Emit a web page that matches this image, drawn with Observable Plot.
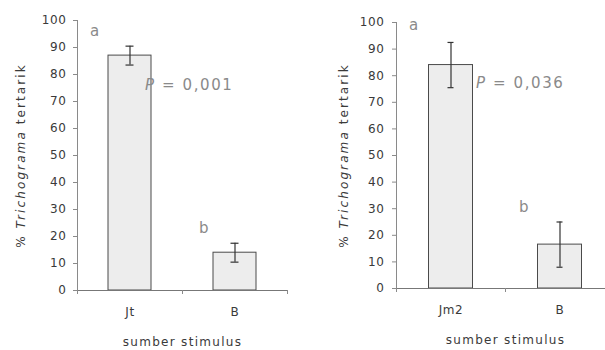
<!DOCTYPE html>
<html>
<head>
<meta charset="utf-8">
<script src="https://cdn.jsdelivr.net/npm/d3@7"></script>
<script src="https://cdn.jsdelivr.net/npm/@observablehq/plot@0.6"></script>
<style>
  html, body { margin: 0; padding: 0; background: #fff; overflow: hidden; }
  #wrap { display: flex; width: 605px; height: 350px; overflow: hidden; }
  #left { width: 300px; height: 350px; overflow: hidden; flex: none; }
  #right { width: 305px; height: 350px; overflow: hidden; flex: none; }
  svg { max-width: none !important; }
</style>
</head>
<body>
<div id="wrap"><div id="left"></div><div id="right"></div></div>
<script>
// ---- data ----
const leftCategories = ["Jt", "B"];
const leftMeans = [87, 14];
const leftErrors = [3.5, 3.5];
const leftLetters = ["a", "b"];
const leftP = "P = 0,001";

const rightCategories = ["Jm2", "B"];
const rightMeans = [84, 16.5];
const rightErrors = [8.5, 8.5];
const rightLetters = ["a", "b"];
const rightP = "P = 0,036";

const yTicks = [0, 10, 20, 30, 40, 50, 60, 70, 80, 90, 100];
const xLabel = "sumber stimulus";
const yLabelParts = ["% ", "Trichograma", " tertarik"];

function panel(o) {
  const rows = o.cats.map((c, i) => ({cat: c, mean: o.means[i], lo: o.means[i] - o.errs[i], hi: o.means[i] + o.errs[i], letter: o.letters[i]}));
  const step = (o.width - o.ml - o.mr) / o.cats.length;
  const barInset = (step - o.barW) / 2;
  const capInset = (step - o.capW) / 2;
  const axisColor = "#8a8a8a";
  const textColor = "#3a3a3a";
  const font = "DejaVu Sans, sans-serif";
  const chart = Plot.plot({
    width: o.width,
    height: 350,
    marginLeft: o.ml,
    marginRight: o.mr,
    marginTop: o.mt,
    marginBottom: o.mb,
    style: {fontFamily: font, fontSize: "12px", color: textColor, background: "#fff", letterSpacing: "0.6px", maxWidth: "none"},
    x: {domain: o.cats, padding: 0, label: null},
    y: {domain: [0, 100], label: null},
    marks: [
      Plot.frame({anchor: "left", stroke: axisColor}),
      Plot.axisY({ticks: yTicks, tickSize: 4, tickPadding: o.tickPad, stroke: axisColor, fill: textColor,
        label: "Y", labelAnchor: "center", labelOffset: o.labelOff, fontSize: 12}),
      Plot.axisX({tickSize: 0, tickPadding: 17, fill: textColor, fontSize: 12, label: xLabel,
        labelAnchor: "center", labelOffset: 55}),
      Plot.barY(rows, {x: "cat", y: "mean", fill: "#ededed", stroke: "#4a4a4a", strokeWidth: 1,
        insetLeft: barInset, insetRight: barInset}),
      Plot.ruleY([0], {stroke: "#777"}),
      Plot.ruleX(rows, {x: "cat", dx: -step / 2, y1: 0, y2: 0, insetBottom: -4, stroke: axisColor}),
      Plot.ruleX(rows, {x: "cat", dx: step / 2, y1: 0, y2: 0, insetBottom: -4, stroke: axisColor}),
      Plot.ruleX(rows, {x: "cat", y1: "lo", y2: "hi", stroke: "#333", strokeWidth: 1.2}),
      Plot.tickY(rows, {x: "cat", y: "lo", stroke: "#333", strokeWidth: 1.2, insetLeft: capInset, insetRight: capInset}),
      Plot.tickY(rows, {x: "cat", y: "hi", stroke: "#333", strokeWidth: 1.2, insetLeft: capInset, insetRight: capInset}),
      ...rows.map((r, i) => Plot.text([r], {x: "cat", y: () => o.letterY[i], dx: o.letterDx[i], text: "letter",
        fill: "#8a8a8a", fontSize: 15})),
      Plot.text([o.p], {x: () => o.cats[0], y: () => o.pY, dx: o.pDx, text: d => d, textAnchor: "start",
        fill: "#8a8a8a", fontSize: 15, className: "ptext"})
    ]
  });
  const svg = d3.select(chart);
  // italic genus in y label
  const lab = svg.select('g[aria-label="y-axis label"] text');
  if (!lab.empty()) {
    lab.text(null);
    lab.append("tspan").text(yLabelParts[0]);
    lab.append("tspan").attr("font-style", "italic").text(yLabelParts[1]);
    lab.append("tspan").attr("font-style", "normal").text(yLabelParts[2]);
    lab.attr("fill", textColor).attr("letter-spacing", "2.1px");
  }
  svg.select('g[aria-label="x-axis label"] text').attr("fill", textColor).attr("letter-spacing", "1.3px");
  // italic P in the P-value text
  svg.selectAll("g.ptext text").each(function () {
    const t = d3.select(this);
    const s = t.text();
    t.text(null).attr("letter-spacing", "1.6px");
    t.append("tspan").attr("font-style", "italic").text(s.slice(0, 1));
    t.append("tspan").text(s.slice(1));
  });
  return chart;
}

document.getElementById("left").append(panel({
  cats: leftCategories, means: leftMeans, errs: leftErrors, letters: leftLetters, p: leftP,
  width: 300, ml: 77, mr: 13, mt: 20, mb: 60, barW: 43, capW: 8, tickPad: 7, labelOff: 61,
  letterY: [96, 23], letterDx: [-35, -31], pY: 76, pDx: 15
}));
document.getElementById("right").append(panel({
  cats: rightCategories, means: rightMeans, errs: rightErrors, letters: rightLetters, p: rightP,
  width: 318, ml: 96, mr: 4, mt: 22, mb: 62, barW: 44, capW: 6, tickPad: 8, labelOff: 57,
  letterY: [99, 30.5], letterDx: [-37, -36], pY: 77, pDx: 25
}));
</script>
</body>
</html>
